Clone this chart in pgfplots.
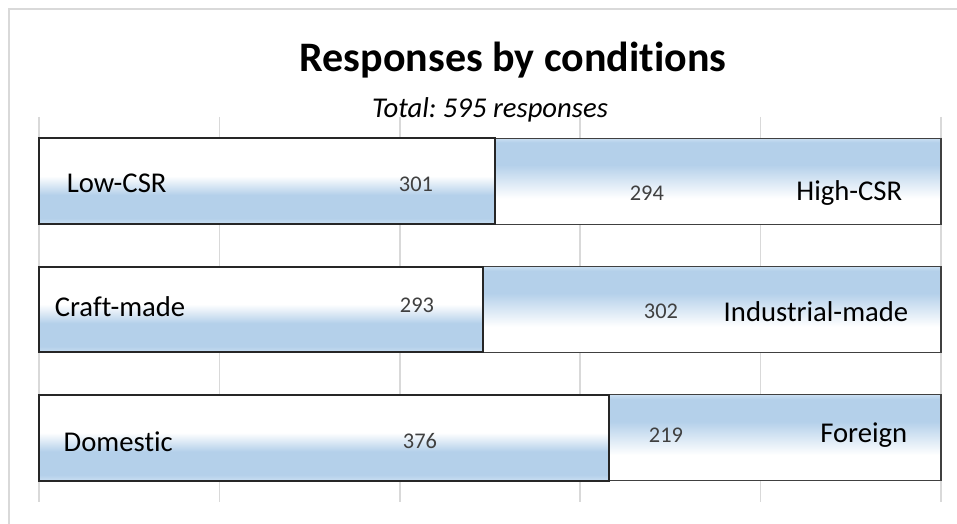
\documentclass[border=0pt]{standalone}
\usepackage{pgfplots}
\pgfplotsset{compat=1.18}
\usepackage{fontspec}
\setmainfont{Carlito}[Ligatures=NoCommon]
\frenchspacing

\definecolor{barblue}{RGB}{180,208,234}
\definecolor{barlight}{RGB}{202,223,242}
\definecolor{gridgray}{RGB}{217,217,217}
\definecolor{edgedark}{RGB}{38,38,38}
\definecolor{edgemid}{RGB}{64,64,64}
\definecolor{valgray}{RGB}{64,64,64}

% white on top, blue underneath (left part of each bar)
\pgfdeclareverticalshading{lowshade}{100bp}{color(0bp)=(barlight); color(25bp)=(barlight); color(28.5bp)=(barblue); color(42bp)=(barblue); color(53bp)=(white); color(100bp)=(white)}
% blue on top, white underneath (right part of each bar)
\pgfdeclareverticalshading{highshade}{100bp}{color(0bp)=(white); color(40bp)=(white); color(59.5bp)=(barblue); color(72.5bp)=(barblue); color(75bp)=(barlight); color(100bp)=(barlight)}

\pgfplotsset{
  lowbar/.style={draw=edgedark, line width=1.5pt, line join=miter, shading=lowshade, shade},
  highbar/.style={draw=edgemid, line width=0.8pt, line join=miter, shading=highshade, shade},
}

\begin{document}
\begin{tikzpicture}
\path[use as bounding box] (0,0) rectangle (717.75pt,393pt);
% chart area frame (top and left edges visible)
\draw[gridgray, line width=1.2pt] (6.75pt,0) -- (6.75pt,386.25pt) -- (717.75pt,386.25pt);

\node[anchor=base, font=\fontsize{31.5}{36}\selectfont\bfseries] at (384.75pt,339pt) {Responses by conditions};
\node[anchor=base, font=\fontsize{21.5}{26}\selectfont\itshape] at (367.5pt,304.5pt) {Total: 595 responses};

\begin{axis}[
    at={(29.25pt,16.5pt)}, anchor=south west,
    scale only axis,
    width=676.5pt, height=288.75pt,
    xmin=0, xmax=595,
    ymin=-0.5, ymax=2.5,
    y dir=reverse,
    xtick={0,119,238,357,476,595},
    xticklabels={},
    ytick=\empty,
    xmajorgrids,
    major grid style={gridgray, line width=1.3pt},
    axis line style={draw=none},
    tick style={draw=none},
    clip=false,
]
% right parts: from the left count to the total 595
\addplot[highbar] coordinates {(301,-0.335) (595,-0.335) (595,0.335) (301,0.335)} -- cycle;
\addplot[highbar] coordinates {(293,0.665) (595,0.665) (595,1.335) (293,1.335)} -- cycle;
\addplot[highbar] coordinates {(376,1.665) (595,1.665) (595,2.335) (376,2.335)} -- cycle;
% left parts
\addplot[lowbar] coordinates {(0,-0.335) (301,-0.335) (301,0.335) (0,0.335)} -- cycle;
\addplot[lowbar] coordinates {(0,0.665) (293,0.665) (293,1.335) (0,1.335)} -- cycle;
\addplot[lowbar] coordinates {(0,1.665) (376,1.665) (376,2.335) (0,2.335)} -- cycle;

% category names
\begin{scope}[every node/.style={font=\fontsize{21.5}{26}\selectfont}]
\node[anchor=base west] at (axis cs:15.2,0.092) {Low-CSR};
\node[anchor=base east] at (axis cs:572.5,0.147) {High-CSR};
\node[anchor=base west] at (axis cs:7.3,1.051) {Craft-made};
\node[anchor=base east] at (axis cs:576.5,1.09) {Industrial-made};
\node[anchor=base west] at (axis cs:13.2,2.103) {Domestic};
\node[anchor=base east] at (axis cs:575.8,2.04) {Foreign};
\end{scope}
% counts
\begin{scope}[every node/.style={anchor=base, text=valgray, font=\fontsize{16.8}{20}\selectfont}]
\node at (axis cs:248.7,0.084) {301};
\node at (axis cs:401,0.147) {294};
\node at (axis cs:249.3,1.02) {293};
\node at (axis cs:410.3,1.074) {302};
\node at (axis cs:251.3,2.08) {376};
\node at (axis cs:413.6,2.04) {219};
\end{scope}
\end{axis}
\end{tikzpicture}
\end{document}
